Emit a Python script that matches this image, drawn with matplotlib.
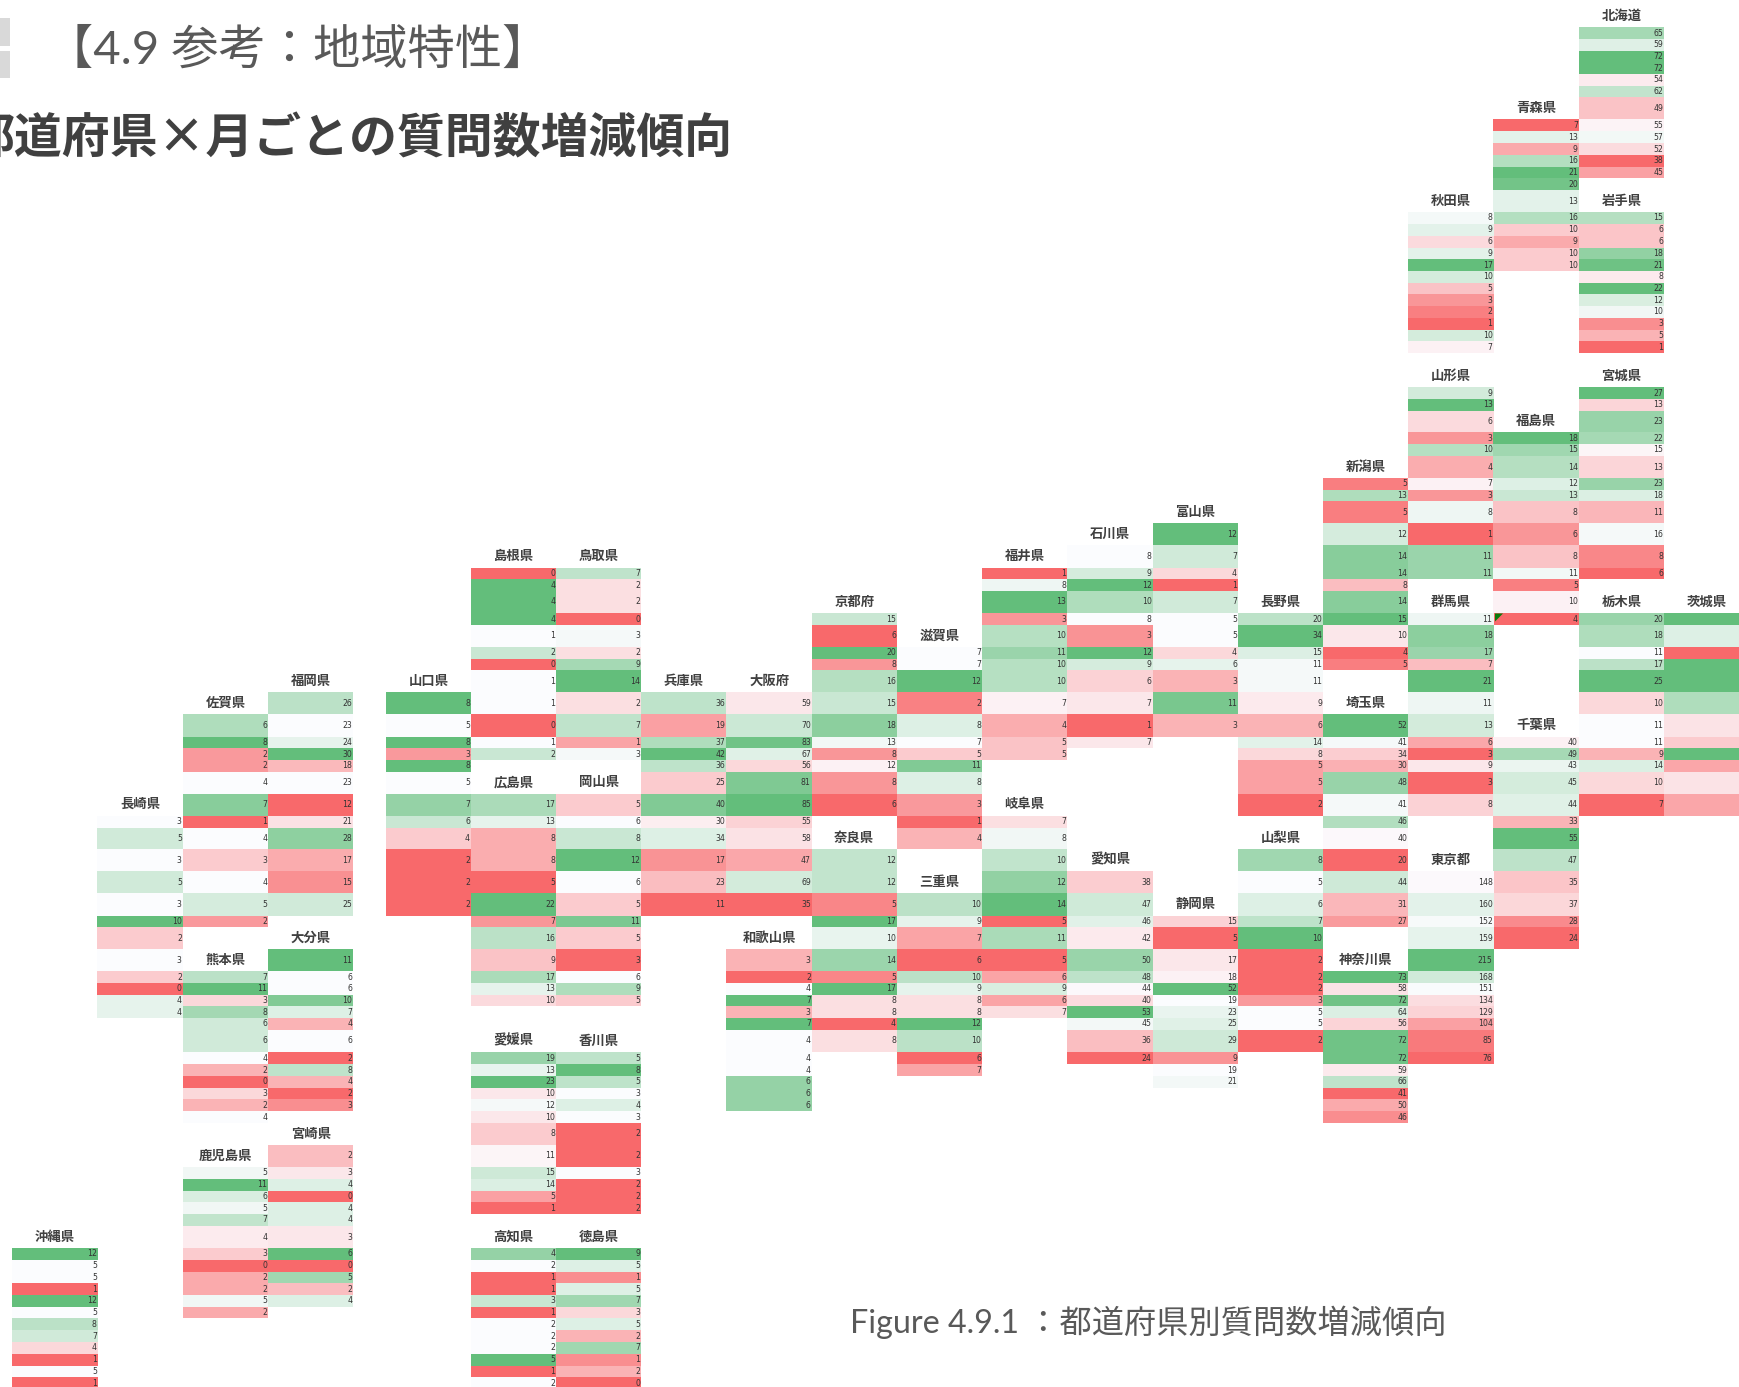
import numpy as np
import matplotlib
matplotlib.use('Agg')
import matplotlib.pyplot as plt
from matplotlib.colors import LinearSegmentedColormap, TwoSlopeNorm
from matplotlib.patches import Rectangle, Polygon

CJK = ['Noto Sans CJK JP', 'DejaVu Sans']
LATIN_CJK = ['Lato', 'Noto Sans CJK JP', 'DejaVu Sans']

# monthly counts per prefecture
hokkaido = [65, 59, 72, 72, 54, 62, 49, 55, 57, 52, 38, 45]
aomori = [7, 13, 9, 16, 21, 20, 13, 16, 10, 9, 10, 10]
iwate = [15, 6, 6, 18, 21, 8, 22, 12, 10, 3, 5, 1]
miyagi = [27, 13, 23, 22, 15, 13, 23, 18, 11, 16, 8, 6]
akita = [8, 9, 6, 9, 17, 10, 5, 3, 2, 1, 10, 7]
yamagata = [9, 13, 6, 3, 10, 4, 7, 3, 8, 1, 11, 11]
fukushima = [18, 15, 14, 12, 13, 8, 6, 8, 11, 5, 10, 4]
ibaraki = [39, 31, 17, 39, 39, 34, 27, 25, 39, 22, 27, 22]
tochigi = [20, 18, 11, 17, 25, 10, 11, 11, 9, 14, 10, 7]
gunma = [11, 18, 17, 7, 21, 11, 13, 6, 3, 9, 3, 8]
saitama = [52, 41, 34, 30, 48, 41, 46, 40, 20, 44, 31, 27]
chiba = [40, 49, 43, 45, 44, 33, 55, 47, 35, 37, 28, 24]
tokyo = [148, 160, 152, 159, 215, 168, 151, 134, 129, 104, 85, 76]
kanagawa = [73, 58, 72, 64, 56, 72, 72, 59, 66, 41, 50, 46]
niigata = [5, 13, 5, 12, 14, 14, 8, 14, 15, 10, 4, 5]
toyama = [12, 7, 4, 1, 7, 5, 5, 4, 6, 3, 11, 3]
ishikawa = [8, 9, 12, 10, 8, 3, 12, 9, 6, 7, 1, 7]
fukui = [1, 8, 13, 3, 10, 11, 10, 10, 7, 4, 5, 5]
yamanashi = [8, 5, 6, 7, 10, 2, 2, 2, 3, 5, 5, 2]
nagano = [20, 34, 15, 11, 11, 9, 6, 14, 8, 5, 5, 2]
gifu = [7, 8, 10, 12, 14, 5, 11, 5, 6, 9, 6, 7]
shizuoka = [15, 5, 17, 18, 52, 19, 23, 25, 29, 9, 19, 21]
aichi = [38, 47, 46, 42, 50, 48, 44, 40, 53, 45, 36, 24]
mie = [10, 9, 7, 6, 10, 9, 8, 8, 12, 10, 6, 7]
shiga = [7, 7, 12, 2, 8, 7, 5, 11, 8, 3, 1, 4]
kyoto = [15, 6, 20, 8, 16, 15, 18, 13, 8, 12, 8, 6]
osaka = [59, 70, 83, 67, 56, 81, 85, 55, 58, 47, 69, 35]
hyogo = [36, 19, 37, 42, 36, 25, 40, 30, 34, 17, 23, 11]
nara = [12, 12, 5, 17, 10, 14, 5, 17, 8, 8, 4, 8]
wakayama = [3, 2, 4, 7, 3, 7, 4, 4, 4, 6, 6, 6]
tottori = [7, 2, 2, 0, 3, 2, 9, 14, 2, 7, 1, 3]
shimane = [0, 4, 4, 4, 1, 2, 0, 1, 1, 0, 1, 2]
okayama = [5, 6, 8, 12, 6, 5, 11, 5, 3, 6, 9, 5]
hiroshima = [17, 13, 8, 8, 5, 22, 7, 16, 9, 17, 13, 10]
yamaguchi = [8, 5, 8, 3, 8, 5, 7, 6, 4, 2, 2, 2]
tokushima = [9, 5, 1, 5, 7, 3, 5, 2, 7, 1, 2, 0]
kagawa = [5, 8, 5, 3, 4, 3, 2, 2, 3, 2, 2, 2]
ehime = [19, 13, 23, 10, 12, 10, 8, 11, 15, 14, 5, 1]
kochi = [4, 2, 1, 1, 3, 1, 2, 2, 2, 5, 1, 2]
fukuoka = [26, 23, 24, 30, 18, 23, 12, 21, 28, 17, 15, 25]
saga = [6, 8, 2, 2, 4, 7, 1, 4, 3, 4, 5, 2]
nagasaki = [3, 5, 3, 5, 3, 10, 2, 3, 2, 0, 4, 4]
kumamoto = [7, 11, 3, 8, 6, 6, 4, 2, 0, 3, 2, 4]
oita = [11, 6, 6, 10, 7, 4, 6, 2, 8, 4, 2, 3]
miyazaki = [2, 3, 4, 0, 4, 4, 3, 6, 0, 5, 2, 4]
kagoshima = [5, 11, 6, 5, 7, 4, 3, 0, 2, 2, 5, 2]
okinawa = [12, 5, 5, 1, 12, 5, 8, 7, 4, 1, 5, 1]

names = ['北海道', '青森県', '岩手県', '宮城県', '秋田県', '山形県', '福島県', '茨城県',
         '栃木県', '群馬県', '埼玉県', '千葉県', '東京都', '神奈川県', '新潟県', '富山県',
         '石川県', '福井県', '山梨県', '長野県', '岐阜県', '静岡県', '愛知県', '三重県',
         '滋賀県', '京都府', '大阪府', '兵庫県', '奈良県', '和歌山県', '鳥取県', '島根県',
         '岡山県', '広島県', '山口県', '徳島県', '香川県', '愛媛県', '高知県', '福岡県',
         '佐賀県', '長崎県', '熊本県', '大分県', '宮崎県', '鹿児島県', '沖縄県']
series = [hokkaido, aomori, iwate, miyagi, akita, yamagata, fukushima, ibaraki,
          tochigi, gunma, saitama, chiba, tokyo, kanagawa, niigata, toyama,
          ishikawa, fukui, yamanashi, nagano, gifu, shizuoka, aichi, mie,
          shiga, kyoto, osaka, hyogo, nara, wakayama, tottori, shimane,
          okayama, hiroshima, yamaguchi, tokushima, kagawa, ehime, kochi, fukuoka,
          saga, nagasaki, kumamoto, oita, miyazaki, kagoshima, okinawa]

# where each block sits on the sheet: column number and y of its first row
columns = [18, 17, 18, 18, 16, 16, 17, 19, 18, 16, 15, 17, 16, 15, 15, 13,
           12, 11, 14, 14, 11, 13, 12, 10, 10, 9, 8, 7, 9, 8, 6, 5,
           6, 5, 4, 6, 6, 5, 5, 3, 2, 1, 2, 3, 3, 2, 0]
tops = [27.3, 119.3, 212, 387.3, 212, 387.3, 432.3, 613, 613, 613, 714.3, 736.7,
        871.3, 971.3, 478, 523.3, 545.3, 567.7, 849.3, 613, 815.7, 915.7, 871.3, 893.3,
        647, 613, 692.3, 692.3, 849.3, 949.3, 567.7, 567.7, 793.7, 793.7, 692.3,
        1248, 1052, 1052, 1248, 692.3, 714.3, 815.7, 971.3, 949.3, 1145, 1167, 1248]

# the sheet's column and row edges (the rows are not all the same height)
col_left = np.array([12.5, 97.5, 183, 268, 385.7, 471, 556, 641, 726.5, 811.7, 897, 982,
                     1067.3, 1152.7, 1238, 1323, 1408.3, 1493.5, 1578.8, 1664])
col_w = 85.3
row_edges = np.array([27.3, 39, 50.7, 62.3, 74, 85.7, 97.3, 119.3, 131, 143, 155, 166.7,
                      178.3, 190, 212, 224, 236, 247.5, 259.3, 271, 282.7, 294.3, 306,
                      317.7, 329.7, 341.3, 353, 387.3, 399, 410.7, 432.3, 444, 456, 478,
                      489.7, 501.3, 523.3, 545.3, 567.7, 579.3, 591, 613, 625, 647, 658.7,
                      670.3, 692.3, 714.3, 736.7, 748.3, 760, 771.7, 793.7, 815.7, 827.7,
                      849.3, 871.3, 893.3, 915.7, 927.3, 949.3, 971.3, 983, 994.7, 1006.3,
                      1018, 1029.7, 1052, 1064.3, 1076, 1087.7, 1099.3, 1111, 1123, 1145,
                      1167, 1178.5, 1190.5, 1202.3, 1214, 1226, 1248, 1259.7, 1271.7,
                      1283.3, 1295, 1306.7, 1318.3, 1330.3, 1342, 1353.7, 1365.7, 1377.3, 1389])

# Excel green-white-red scale, midpoint at the block's own median
cmap = LinearSegmentedColormap.from_list('rwg', ['#F8696B', '#FCFCFF', '#63BE7B'])

fig = plt.figure(figsize=(17.4, 13.87), dpi=100)
ax = fig.add_axes([0, 0, 1, 1])
ax.set_xlim(0, 1740)
ax.set_ylim(1387, 0)
ax.axis('off')

for name, vals, col, top in zip(names, series, columns, tops):
    i0 = np.argmin(np.abs(row_edges - top))
    ys = row_edges[i0:i0 + 13]
    x0 = col_left[col]
    arr = np.array(vals, dtype=float)
    norm = TwoSlopeNorm(vcenter=np.median(arr), vmin=arr.min(), vmax=arr.max())
    ax.pcolormesh([x0, x0 + col_w], ys, arr[:, None], cmap=cmap, norm=norm)
    for k, v in enumerate(vals):
        ax.text(x0 + col_w - 1, (ys[k] + ys[k + 1]) / 2, str(v), ha='right', va='center',
                fontsize=5.6, color='#333333', family='DejaVu Sans', clip_on=True)
    ax.text(x0 + col_w / 2, ys[0] - 11.5, name, ha='center', va='center', fontsize=9.6,
            fontweight='bold', color='#404040', family=CJK)

# Excel's little error flag on the last Fukushima cell
ax.add_patch(Polygon([(1495, 613.5), (1503, 613.5), (1495, 621.5)], color='#0B7A0B', lw=0))

# slide furniture
ax.add_patch(Rectangle((0, 18), 10, 28, color='#D9D9D9', lw=0))
ax.add_patch(Rectangle((0, 51), 10, 27, color='#D9D9D9', lw=0))
ax.text(46, 50, '【4.9 参考：地域特性】', ha='left', va='center', fontsize=34,
        color='#595959', family=LATIN_CJK)
ax.text(732, 139, '都道府県×月ごとの質問数増減傾向', ha='right', va='center', fontsize=34.5,
        fontweight='bold', color='#404040', family=CJK)
ax.text(850, 1322, 'Figure 4.9.1 ：都道府県別質問数増減傾向', ha='left', va='center', fontsize=23.2,
        color='#595959', family=LATIN_CJK)

fig.savefig('out.png', dpi=100)
